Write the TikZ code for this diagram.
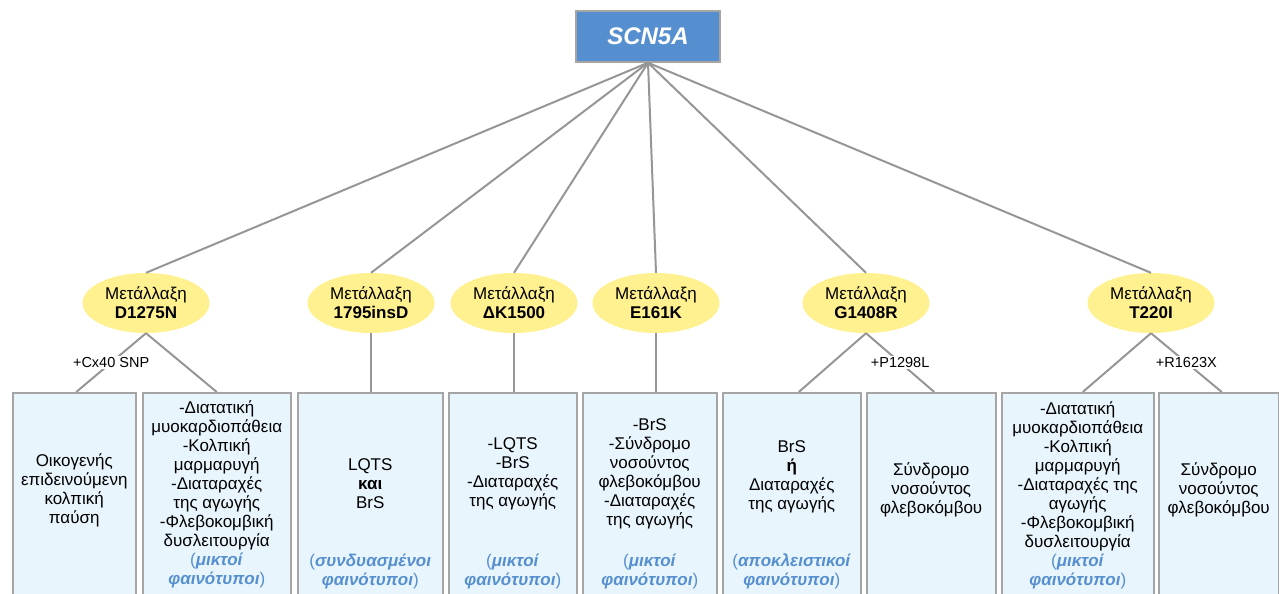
\documentclass[tikz,border=0pt]{standalone}
\usepackage{fontspec}
\setmainfont{Liberation Sans}
\usetikzlibrary{shapes.geometric, positioning}
\definecolor{genefill}{RGB}{86,143,207}
\definecolor{mutfill}{RGB}{255,241,143}
\definecolor{cellfill}{RGB}{232,245,253}
\definecolor{edgegray}{RGB}{165,165,165}
\definecolor{linkgray}{RGB}{150,150,150}
\definecolor{phenoblue}{RGB}{86,143,207}
\newcommand{\cellfont}{\fontsize{17}{19}\selectfont}
\newcommand{\phentwo}[2]{\textcolor{phenoblue}{(\textbf{\textit{#1}}}\\\textcolor{phenoblue}{\textbf{\textit{#2}})}}

\begin{document}
\begin{tikzpicture}[x=1pt, y=-1pt,
    gene/.style={draw=edgegray, line width=1.5pt, fill=genefill, minimum width=144pt,
        minimum height=51pt, text=white, font=\fontsize{24}{28}\selectfont\bfseries\itshape},
    mutation/.style={ellipse, fill=mutfill, minimum width=127pt, minimum height=60pt,
        inner sep=0pt, align=center, font=\cellfont},
    cell/.style={draw=edgegray, line width=1.5pt, fill=cellfill, anchor=north west,
        minimum height=215pt, inner sep=0pt},
    txt/.style={align=center, font=\cellfont, inner sep=0pt},
    link/.style={draw=linkgray, line width=2pt},
    tag/.style={fill=white, inner sep=1.5pt, font=\fontsize{14.5}{16}\selectfont}]
    \useasboundingbox (0,0) rectangle (1279,594);

    % gene and mutations
    \node[gene] (scn) at (648,36.5) {SCN5A};
    \node[mutation] (m1) at (146,303) {Μετάλλαξη\\\textbf{D1275N}};
    \node[mutation] (m2) at (371,303) {Μετάλλαξη\\\textbf{1795insD}};
    \node[mutation] (m3) at (514,303) {Μετάλλαξη\\\textbf{ΔK1500}};
    \node[mutation] (m4) at (656,303) {Μετάλλαξη\\\textbf{E161K}};
    \node[mutation] (m5) at (866,303) {Μετάλλαξη\\\textbf{G1408R}};
    \node[mutation] (m6) at (1151,303) {Μετάλλαξη\\\textbf{T220I}};

    % phenotype boxes
    \foreach \n/\l/\r in {b1/12/135, b2/142/290, b3/297/442, b4/448/576, b5/582/716,
        b6/722/860, b7/866/995, b8/1001/1153, b9/1158/1278} {
        \node[cell, minimum width={\r-\l}] (\n) at (\l,392) {};
    }

    \foreach \m in {m1,m2,m3,m4,m5,m6} {
        \draw[link] (scn.south) -- (\m.north);
    }
    \draw[link] (m1.south) -- node[tag] {+Cx40 SNP} ([xshift=2]b1.north);
    \draw[link] (m1.south) -- (b2.north);
    \draw[link] (m2.south) -- (m2.south |- b3.north);
    \draw[link] (m3.south) -- (m3.south |- b4.north);
    \draw[link] (m4.south) -- (m4.south |- b5.north);
    \draw[link] (m5.south) -- ([xshift=7]b6.north);
    \draw[link] (m5.south) -- node[tag] {+P1298L} ([xshift=3]b7.north);
    \draw[link] (m6.south) -- ([xshift=5]b8.north);
    \draw[link] (m6.south) -- node[tag] {+R1623X} ([xshift=3]b9.north);

    % texts
    \node[txt] (t1) at (b1.north |- 0,490) {Οικογενής\\επιδεινούμενη\\κολπική\\παύση};
    \node[txt] (t2) at (b2.north |- 0,494) {-Διατατική\\μυοκαρδιοπάθεια\\-Κολπική\\μαρμαρυγή\\-Διαταραχές\\της αγωγής\\-Φλεβοκομβική\\δυσλειτουργία\\\phentwo{μικτοί}{φαινότυποι}};
    \node[txt] (t3) at (b3.north |- 0,484) {LQTS\\\textbf{και}\\BrS};
    \node[txt] (t4) at (b4.north |- 0,474) {-LQTS\\-BrS\\-Διαταραχές\\της αγωγής};
    \node[txt] (t5) at (b5.north |- 0,474) {-BrS\\-Σύνδρομο\\νοσούντος\\φλεβοκόμβου\\-Διαταραχές\\της αγωγής};
    \node[txt] (t6) at (b6.north |- 0,477) {BrS\\\textbf{ή}\\Διαταραχές\\της αγωγής};
    \node[txt] (t7) at (b7.north |- 0,490) {Σύνδρομο\\νοσούντος\\φλεβοκόμβου};
    \node[txt] (t8) at (b8.north |- 0,495) {-Διατατική\\μυοκαρδιοπάθεια\\-Κολπική\\μαρμαρυγή\\-Διαταραχές της\\αγωγής\\-Φλεβοκομβική\\δυσλειτουργία\\\phentwo{μικτοί}{φαινότυποι}};
    \node[txt] (t9) at (b9.north |- 0,490) {Σύνδρομο\\νοσούντος\\φλεβοκόμβου};

    \node[txt] (p3) at (b3.north |- 0,571) {\phentwo{συνδυασμένοι}{φαινότυποι}};
    \node[txt] (p4) at (b4.north |- 0,571) {\phentwo{μικτοί}{φαινότυποι}};
    \node[txt] (p5) at (b5.north |- 0,571) {\phentwo{μικτοί}{φαινότυποι}};
    \node[txt] (p6) at (b6.north |- 0,571) {\phentwo{αποκλειστικοί}{φαινότυποι}};
\end{tikzpicture}
\end{document}
